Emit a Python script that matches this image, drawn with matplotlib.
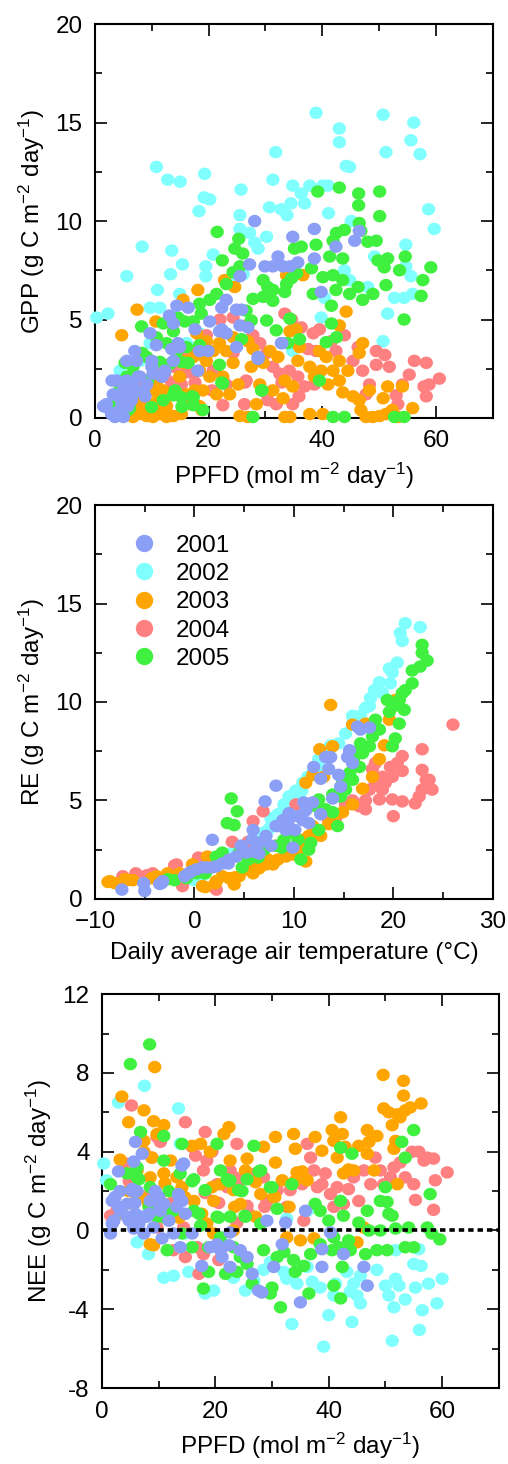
import numpy as np
import matplotlib
matplotlib.use("Agg")
import matplotlib.pyplot as plt
from matplotlib.ticker import MultipleLocator, FuncFormatter
from matplotlib.lines import Line2D
from matplotlib.path import Path

plt.rcParams['font.family'] = ['Liberation Sans', 'DejaVu Sans']
plt.rcParams['mathtext.fontset'] = 'custom'
plt.rcParams['mathtext.rm'] = 'Liberation Sans'
plt.rcParams['mathtext.it'] = 'Liberation Sans'

years = ["2001", "2002", "2003", "2004", "2005"]
colores = {"2001": "#8a9ff5", "2002": "#80ffff", "2003": "#ffa500",
           "2004": "#ff8080", "2005": "#3ff03f"}

# ---- panel 1: GPP vs PPFD  (x, y) ----
gpp_2001 = [(28.1,10.0),(38.6,9.6),(34.8,9.2),(46.5,9.5),(45.7,9.0),(42.4,8.7),(32.2,8.2),(38.6,8.1),
            (29.9,7.7),(31.3,7.7),(33.1,7.7),(34.3,7.7),(35.7,7.9),(27.2,7.8),(25.5,7.2),(39.8,6.4),
            (32.8,3.8),(28.7,3.0),(24.9,5.5),(25.5,4.7),(26.9,4.6),(24.9,3.6),(23.1,4.3),(21.9,4.4),
            (20.2,4.9),(23.1,6.0),(22.3,5.6),(18.4,3.4),(19.9,3.4),(17.6,4.5),(16.4,5.6),(14.4,5.7),
            (13.1,5.2),(13.8,4.8),(9.7,4.3),(10.8,3.7),(14.9,3.6),(13.8,2.9),(12.3,2.4),(10.0,2.6),
            (7.0,3.4),(5.6,2.9),(7.3,2.9),(5.6,1.9),(3.8,1.9),(3.2,1.2),(5.0,1.6),(6.7,1.6),(7.9,2.1),
            (6.4,0.9),(4.7,0.6),(2.9,0.2),(1.5,0.6),(2.0,0.7),(3.5,0.05),(5.0,0.05),(6.1,1.2),(8.5,1.4),
            (9.1,1.7),(10.2,2.25),(11.7,2.1),(4.4,1.0),(1.76,0.57),(3.5,0.25),(5.6,1.8),(7.0,1.3),
            (5.8,0.6),(8.8,1.1),(7.6,2.1),(10.0,2.9),(13.5,3.5),(14.6,3.8),(18.1,2.4),(22.3,4.5),
            (25.8,5.5),(28.7,3.1),(32.9,3.8),(11.8,2.1),(12.2,2.3),(4.7,1.1),(3.0,1.9)]
gpp_2002 = [(0.3,5.1),(2.3,5.3),(5.6,7.2),(8.3,8.7),(10.8,12.75),(12.8,12.1),(15.0,12.0),(13.5,8.5),
            (13.3,7.3),(15.4,7.8),(11.0,6.5),(9.7,5.6),(11.4,5.6),(14.9,6.3),(19.3,12.4),(19.2,11.2),
            (20.2,11.1),(18.3,10.5),(19.5,7.7),(20.8,8.3),(19.5,7.2),(25.7,11.6),(25.5,10.3),(25.5,9.6),
            (27.2,9.4),(28.1,8.9),(28.7,8.6),(30.2,9.2),(31.3,12.1),(31.8,13.5),(30.7,10.7),(32.8,10.6),
            (33.8,10.3),(34.8,11.8),(34.5,10.9),(36.3,11.4),(36.9,10.9),(37.8,11.8),(38.9,15.5),(40.1,11.8),
            (41.0,11.8),(41.1,10.4),(43.0,14.7),(43.0,14.0),(44.2,12.8),(44.8,12.75),(45.1,10.0),(50.7,15.4),
            (51.2,13.5),(56.1,15.0),(55.6,14.1),(57.2,13.4),(58.7,10.6),(59.7,9.6),(54.7,8.8),(50.7,3.9),
            (51.5,5.3),(52.7,6.1),(54.4,6.1),(55.9,6.3),(54.7,7.7),(55.6,7.2),(48.0,6.65),(49.2,8.2),
            (43.9,7.5),(44.8,7.0),(39.8,5.1),(40.4,6.1),(34.8,3.4),(23.7,6.9),(26.1,7.3),(9.7,3.8),
            (7.9,2.9),(4.4,2.4),(16.1,3.8),(18.4,4.3)]
gpp_2003 = [(7.4,5.5),(4.7,4.2),(10.7,4.9),(15.5,6.0),(18.1,6.5),(24.6,6.65),(22.8,7.0),(33.7,7.25),
            (36.6,7.25),(44.2,5.4),(43.0,4.7),(47.1,3.8),(46.5,3.3),(34.3,4.4),(35.4,4.5),(36.0,3.6),
            (35.7,2.9),(37.8,2.6),(38.6,2.1),(39.8,2.4),(41.0,1.7),(41.9,2.4),(43.0,2.9),(44.5,2.4),
            (43.0,1.9),(43.6,1.3),(45.4,1.1),(46.5,0.9),(46.8,0.4),(47.7,0.05),(48.9,0.05),(50.1,0.1),
            (51.2,0.2),(52.3,0.4),(53.3,0.05),(54.1,1.6),(51.5,1.6),(50.7,1.0),(55.9,0.5),(48.3,1.4),
            (40.1,0.2),(37.8,0.2),(33.4,0.05),(34.3,0.05),(31.3,1.4),(33.1,1.0),(33.4,1.9),(34.8,1.6),
            (29.0,1.7),(28.4,0.7),(26.9,0.05),(25.5,0.1),(25.2,1.7),(27.5,2.6),(29.6,2.8),(30.8,3.4),
            (32.2,3.1),(24.3,2.8),(23.1,3.4),(21.9,3.8),(22.5,2.1),(21.4,1.2),(23.7,1.2),(20.2,2.1),
            (19.0,1.4),(18.4,0.6),(16.7,0.7),(16.1,1.2),(15.2,0.2),(13.8,0.1),(12.6,0.05),(11.4,0.2),
            (10.2,0.05),(9.1,0.1),(7.9,0.2),(6.7,0.05),(6.1,0.4),(7.3,0.6),(8.5,0.55),(9.7,0.7),
            (11.1,0.9),(12.6,0.6),(13.2,1.15),(12.0,1.4),(10.8,1.7),(14.9,2.1),(15.5,2.8),(17.3,3.1),
            (18.4,2.4),(19.6,2.9),(20.8,3.4),(17.9,4.3),(19.6,3.9),(24.3,4.1),(26.9,3.9),(27.8,3.5),
            (40.7,3.1),(39.5,3.4),(7.0,0.25),(8.8,0.4),(10.6,0.25),(11.8,0.57),(12.3,1.1),(10.0,1.4),
            (7.6,0.75),(14.1,1.25),(18.8,0.4),(17.6,1.4),(19.3,3.1),(15.8,2.9)]
gpp_2004 = [(33.4,5.3),(34.6,5.0),(36.3,4.6),(38.4,4.3),(39.5,4.5),(41.6,3.9),(43.9,4.2),(42.4,3.4),
            (38.9,3.4),(37.5,3.5),(46.3,3.6),(49.5,3.4),(51.0,3.2),(49.5,2.7),(51.8,2.6),(56.2,2.9),
            (58.3,2.8),(60.6,2.0),(58.8,1.7),(57.9,1.6),(58.3,1.1),(55.3,2.2),(54.1,1.7),(53.0,1.15),
            (53.3,0.7),(48.3,1.7),(47.7,1.2),(47.1,2.4),(45.4,2.9),(38.6,1.7),(36.9,1.6),(35.7,2.1),
            (34.2,2.4),(32.5,2.25),(31.3,2.6),(29.0,3.8),(30.2,3.3),(27.8,4.2),(26.6,4.7),(24.3,5.1),
            (22.0,5.0),(19.6,4.2),(18.7,4.1),(17.0,3.4),(14.9,3.3),(13.8,2.6),(12.3,2.1),(10.8,2.6),
            (17.3,2.25),(20.8,2.4),(23.1,1.7),(22.5,0.65),(26.6,1.9),(26.3,0.7),(30.0,1.3),(31.9,0.7),
            (34.8,0.7),(35.9,1.1),(24.3,3.3),(15.2,1.7),(7.3,1.6),(4.7,1.4),(5.3,0.9),(18.8,4.1),
            (15.8,2.3),(17.6,1.8),(20.6,1.4),(13.5,1.8),(26.4,1.8),(30.4,0.9),(32.9,1.8)]
gpp_2005 = [(21.5,9.45),(25.3,9.1),(24.6,8.6),(22.4,8.0),(26.0,8.35),(25.5,7.7),(24.3,7.4),(23.1,6.8),
            (21.4,6.3),(20.2,6.0),(18.4,5.8),(18.7,5.3),(17.3,4.9),(15.8,4.9),(13.8,5.1),(12.0,4.8),
            (13.8,4.4),(8.2,4.65),(10.8,4.1),(12.6,3.8),(14.4,3.4),(16.1,3.6),(18.4,3.7),(15.2,2.85),
            (13.2,2.75),(11.4,2.85),(9.1,3.1),(6.7,2.6),(5.6,2.1),(4.4,1.5),(2.6,0.65),(6.1,0.5),
            (9.95,0.55),(12.0,0.9),(13.8,1.15),(15.2,1.05),(17.3,1.05),(17.3,0.65),(19.0,0.4),(22.5,1.75),
            (21.9,2.7),(25.8,4.0),(27.5,4.95),(26.6,5.45),(27.8,6.05),(29.6,6.15),(30.2,4.95),(31.9,4.45),
            (29.6,7.0),(30.4,6.65),(31.3,6.5),(31.3,5.95),(33.4,6.4),(33.7,6.8),(34.6,7.1),(35.5,7.35),
            (36.3,8.7),(38.1,7.6),(38.9,8.8),(39.2,11.5),(40.1,7.15),(43.0,11.7),(41.3,8.2),(41.9,9.0),
            (42.5,9.4),(43.9,9.55),(43.6,8.1),(41.9,7.25),(43.6,7.0),(42.4,6.5),(41.6,5.7),(41.6,4.8),
            (42.5,4.1),(44.8,6.3),(46.3,6.65),(46.4,11.4),(46.4,10.8),(46.5,9.9),(46.8,9.5),(48.0,8.95),
            (49.5,9.0),(50.1,10.25),(50.1,11.5),(49.8,8.0),(51.5,8.1),(50.9,7.65),(51.2,6.75),(48.9,6.3),
            (47.1,6.0),(53.6,7.5),(54.6,8.2),(54.4,5.0),(57.7,7.0),(57.4,6.2),(59.1,7.65),(38.4,6.3),
            (35.1,8.6),(34.3,5.05),(36.0,4.0),(33.9,3.8),(39.5,1.9),(29.3,1.4),(27.8,0.05),(41.9,0.05),
            (43.9,0.05),(52.7,0.05),(54.4,0.05),(40.7,3.85),(3.5,0.75),(5.8,0.4),(5.3,2.8),(8.3,3.3),
            (9.3,1.9),(14.1,1.4),(15.3,0.57),(17.1,1.1),(22.3,1.8),(29.4,1.4),(16.4,2.8),(14.6,5.1)]

# ---- panel 2: RE vs air temperature ----
re_2001 = [(-7.3,0.47),(-5.1,0.8),(-5.0,0.4),(-3.5,0.76),(-3.2,0.9),(-1.0,1.15),(-0.3,1.4),(0.2,1.5),
           (0.8,1.6),(1.8,3.0),(1.3,1.6),(2.2,1.65),(2.8,1.8),(3.5,2.0),(4.2,2.15),(4.7,2.7),(5.2,2.35),
           (5.9,2.4),(6.5,2.85),(7.2,3.2),(7.1,4.95),(8.2,5.75),(7.7,2.7),(8.2,3.7),(8.9,4.0),(9.2,3.5),
           (9.9,2.6),(9.5,4.35),(10.4,4.2),(10.9,4.0),(11.2,4.5),(11.0,4.9),(11.9,4.9),(12.0,6.7),
           (12.7,4.3),(12.7,6.1),(13.2,7.2),(13.7,7.2),(13.5,6.6),(13.9,5.1),(14.7,5.7),(14.5,6.3),
           (15.4,7.2),(15.6,7.55),(15.9,6.9),(16.4,8.75),(16.7,8.6),(17.6,8.7),(11.5,3.85),(5.9,3.5),
           (6.5,2.3),(8.4,3.7),(9.4,3.9),(5.8,3.0),(3.4,1.8),(1.8,1.6),(-0.6,1.3),(-3.3,0.8),
           (10.8,4.2),(10.1,3.5)]
re_2002 = [(21.2,14.0),(22.7,13.8),(20.7,13.5),(20.9,13.1),(20.4,12.0),(19.6,11.7),(19.9,11.5),(19.7,10.95),
           (18.6,11.0),(18.1,10.6),(18.9,10.45),(17.7,10.2),(17.2,9.7),(16.7,9.3),(15.9,8.9),(15.2,8.4),
           (14.5,7.9),(13.7,7.8),(13.4,7.4),(12.5,7.1),(12.0,6.6),(11.5,6.2),(10.9,5.9),(10.2,5.5),
           (9.5,5.2),(9.0,4.8),(8.4,4.3),(7.7,3.7),(6.9,3.35),(5.9,3.0),(4.5,2.7),(3.8,2.35),(2.8,2.0),
           (1.8,1.65),(0.7,1.15),(-0.5,1.0),(15.9,9.3),(16.6,8.9),(17.6,9.8),(12.5,6.7),(10.5,5.3),
           (7.7,4.1),(10.1,5.4),(10.8,5.5),(8.8,4.4),(7.4,3.5),(6.1,3.2),(4.4,2.5),(0.0,0.95),(11.4,6.2)]
re_2003 = [(-8.5,0.9),(-8.0,0.8),(-7.0,1.0),(-6.2,0.95),(-4.3,1.05),(-3.8,1.15),(-2.7,1.3),(-1.5,1.3),
           (-0.2,1.75),(0.8,0.65),(1.3,2.15),(2.2,0.9),(2.8,1.15),(3.5,1.05),(4.0,0.73),(4.5,1.15),
           (5.2,1.5),(5.9,1.3),(6.5,1.55),(7.2,1.75),(7.9,1.75),(8.4,2.0),(9.2,2.15),(10.0,2.25),
           (10.5,2.5),(10.9,3.0),(11.2,1.9),(11.5,3.2),(11.9,3.7),(12.7,3.2),(11.2,5.9),(11.9,6.3),
           (12.6,7.6),(13.7,9.85),(13.5,3.8),(14.2,4.3),(14.9,4.4),(15.9,4.8),(15.9,8.85),(16.9,5.6),
           (17.9,6.2),(18.6,7.1),(19.1,7.8),(19.6,9.1),(20.2,10.1),(17.2,8.9),(13.9,7.75),(15.6,7.4),
           (13.0,6.2),(5.8,1.6),(4.1,1.1),(2.1,0.8),(1.1,0.6),(7.4,2.0),(9.4,2.6),(-8.7,0.86),
           (-6.7,0.96),(-4.0,1.1)]
re_2004 = [(-7.2,1.15),(-5.9,1.3),(-4.8,1.2),(-4.2,1.3),(-1.8,1.75),(-1.2,0.65),(0.5,2.0),(2.2,0.47),
           (3.8,2.9),(5.4,2.9),(5.9,3.95),(6.9,4.45),(8.2,2.7),(10.2,4.8),(11.2,2.85),(13.4,4.1),
           (14.2,4.1),(15.2,4.8),(15.9,5.0),(16.6,4.7),(17.2,5.0),(17.6,5.55),(18.2,5.9),(18.9,6.2),
           (18.9,5.55),(18.6,5.05),(19.2,5.9),(19.9,6.2),(19.7,6.7),(20.4,6.9),(20.9,7.25),(19.9,5.05),
           (20.0,4.2),(20.9,6.5),(20.9,4.95),(22.2,4.85),(22.6,5.2),(22.9,5.55),(22.9,6.55),(22.9,7.6),
           (23.3,6.05),(23.6,6.05),(23.9,5.55),(26.0,8.85),(17.9,6.6),(18.2,6.9),(17.2,4.55),
           (-2.0,1.7),(0.4,2.1),(2.1,1.8)]
re_2005 = [(22.9,12.9),(22.9,12.5),(23.4,12.1),(22.7,11.8),(21.9,11.6),(21.9,10.95),(21.2,10.6),(20.9,10.45),
           (20.6,10.1),(19.4,10.1),(20.1,9.8),(21.1,9.6),(19.6,9.5),(20.6,8.9),(20.2,8.15),(19.9,7.75),
           (18.2,9.1),(18.6,8.6),(17.9,8.25),(17.6,7.75),(16.7,7.9),(16.9,7.4),(16.2,7.4),(16.0,7.05),
           (16.6,6.7),(15.6,6.4),(15.9,6.05),(14.9,5.9),(15.2,5.55),(14.7,5.2),(13.9,5.3),(13.2,4.55),
           (12.5,5.05),(12.2,4.7),(12.5,3.5),(11.7,2.85),(11.5,2.5),(10.7,2.0),(9.9,3.35),(9.0,3.0),
           (8.2,2.7),(7.0,2.5),(6.2,2.25),(5.4,2.0),(4.5,2.35),(3.7,5.1),(4.3,4.45),(3.3,3.85),(4.0,3.75),
           (2.8,2.35),(2.2,2.15),(1.0,1.3),(0.2,1.3),(-0.8,1.05),(-2.7,1.0),(14.4,3.7),(13.9,4.4),
           (1.1,1.3),(4.8,1.6),(6.4,2.1),(8.8,2.6),(10.4,3.0),(-2.0,0.95)]

# ---- panel 3: NEE vs PPFD ----
nee_2001 = [(1.5,-0.15),(2.1,0.5),(1.8,1.5),(2.9,3.0),(3.2,2.0),(4.4,1.35),(5.6,3.5),(5.9,4.5),(7.1,3.9),
            (5.3,2.1),(6.2,2.0),(5.9,0.85),(6.8,0.6),(7.9,0.7),(7.4,-0.15),(5.6,0.1),(4.4,0.7),(3.2,1.0),
            (8.5,1.5),(9.4,2.0),(10.3,1.0),(10.9,1.35),(11.8,0.5),(12.6,-0.15),(13.5,1.85),(14.1,1.5),
            (14.4,3.4),(13.2,1.2),(14.7,0.85),(15.9,-0.15),(13.8,-0.85),(17.6,-1.8),(19.1,-0.85),
            (20.3,-0.7),(20.9,-1.0),(21.2,-1.35),(22.4,-0.75),(22.6,-1.85),(24.4,-1.0),(25.6,-1.35),
            (26.5,-2.2),(27.6,-3.05),(28.2,-3.15),(29.1,0.5),(30.3,-1.85),(31.8,-0.7),(32.4,0.4),
            (35.0,-3.65),(35.9,1.0),(38.8,-1.85),(38.8,-0.95),(42.6,-1.2),(46.2,-1.85),(46.8,-2.8),
            (40.3,-0.1),(10.6,-0.4),(9.1,0.15),(22.6,-0.1),(2.3,1.7),(2.9,1.2),(5.3,2.0),(5.8,1.4),
            (7.0,0.7),(8.3,0.85),(4.8,0.5),(6.5,0.35),(10.2,1.2),(10.0,1.7),(13.6,1.7),(14.1,3.3),(1.8,0.35)]
nee_2002 = [(0.3,3.4),(0.8,2.55),(2.9,6.5),(7.5,7.35),(13.5,6.2),(13.8,4.4),(8.2,-1.2),(6.2,-0.6),
            (10.9,-2.4),(12.6,-2.3),(15.3,-2.1),(18.2,-3.2),(19.7,-3.05),(23.2,-2.4),(25.3,-3.05),
            (26.8,-2.55),(28.5,-2.0),(29.7,-1.6),(32.1,-2.1),(32.6,-2.45),(33.5,-4.75),(34.4,-2.7),
            (36.2,-1.85),(37.1,-2.6),(38.5,-2.9),(39.1,-5.9),(40.0,-4.3),(40.9,-3.3),(41.2,-2.7),
            (43.2,-2.1),(44.1,-4.65),(43.8,-3.1),(44.4,-2.7),(45.0,-3.3),(45.6,-3.7),(45.6,-2.3),
            (48.5,-2.0),(50.0,-2.8),(50.6,-3.3),(51.2,-5.6),(51.5,-3.9),(51.8,-2.45),(52.4,-2.8),
            (53.5,-3.5),(51.8,-1.0),(55.0,-1.7),(55.3,-2.9),(55.9,-0.95),(56.0,-5.05),(56.3,-1.8),
            (56.5,-4.05),(57.6,-2.7),(59.1,-3.7),(60.0,-2.45),(32.6,0.6),(36.2,1.0),(14.7,-0.15)]
nee_2003 = [(3.5,6.8),(4.7,5.5),(7.4,6.1),(9.3,8.3),(9.1,5.55),(10.9,5.35),(7.4,4.55),(9.7,4.9),(3.2,3.6),
            (7.4,4.0),(8.8,3.7),(6.2,3.05),(8.5,2.7),(10.9,2.9),(12.1,3.55),(15.9,4.3),(17.4,4.4),(19.1,4.0),
            (21.5,4.9),(22.4,5.25),(22.6,3.55),(25.6,3.65),(28.5,4.25),(30.6,4.75),(30.6,3.45),(33.8,4.9),
            (34.1,4.15),(34.4,2.95),(35.3,3.0),(36.2,2.55),(37.6,4.75),(38.8,4.05),(40.6,5.1),(42.1,5.75),
            (40.9,4.55),(42.4,4.9),(42.9,4.25),(41.5,3.7),(42.6,2.9),(43.5,3.1),(44.4,3.05),(45.3,4.3),
            (46.8,5.1),(47.1,4.5),(46.8,3.9),(48.0,3.05),(48.5,4.8),(49.6,7.9),(49.7,6.2),(50.6,6.0),
            (51.2,5.35),(51.8,4.55),(52.1,5.9),(52.6,5.75),(53.2,7.6),(53.2,6.85),(53.5,6.1),(54.4,6.25),
            (56.3,6.45),(51.5,4.15),(52.1,2.35),(45.0,-0.6),(46.2,0.15),(32.6,-0.35),(35.0,-0.5),
            (37.4,-0.4),(18.5,0.35),(16.2,1.5),(14.1,2.2),(13.2,2.7),(10.3,1.5),(8.2,1.35),(6.8,1.7),
            (5.6,1.35),(4.7,2.0),(8.5,-0.7),(9.1,-0.75),(19.7,1.5),(20.9,2.35),(23.2,2.05),(24.4,1.35),
            (27.1,0.7),(28.0,1.85),(30.3,1.7),(31.8,2.55),(27.1,2.45),(25.3,3.05),(23.2,0.0),(19.7,-0.15),
            (3.5,0.85),(5.8,1.9),(11.1,2.4),(14.6,1.7),(13.6,0.65),(17.6,0.85),(19.4,2.2),(23.4,1.2),
            (27.0,2.5),(30.5,1.7),(33.0,1.2),(34.0,2.5)]
nee_2004 = [(5.2,6.35),(4.1,3.4),(10.3,4.5),(9.7,4.75),(14.7,5.5),(18.2,5.0),(15.9,4.25),(16.5,3.8),
            (18.5,3.55),(19.4,4.0),(23.8,4.4),(17.9,3.05),(20.3,2.35),(22.6,3.05),(22.1,2.2),(24.4,2.55),
            (27.1,2.9),(28.5,2.7),(29.1,1.5),(30.9,2.05),(33.2,2.05),(35.3,2.35),(36.2,4.4),(36.8,3.7),
            (37.4,3.05),(38.0,2.2),(38.8,2.35),(39.4,2.9),(40.3,1.85),(41.5,2.2),(40.9,1.2),(42.6,1.35),
            (43.5,2.1),(44.4,2.7),(45.3,1.5),(46.2,3.05),(47.4,2.35),(48.2,3.7),(49.1,3.05),(49.7,2.35),
            (50.9,2.7),(51.5,3.2),(52.6,3.45),(53.5,2.7),(55.0,2.35),(55.3,1.55),(55.9,4.0),(56.8,3.55),
            (57.4,3.7),(58.5,3.65),(58.8,2.55),(58.5,1.05),(60.9,2.95),(54.7,4.0),(16.8,-0.85),
            (17.1,-2.2),(17.9,-1.2),(20.6,-1.5),(14.7,-1.35),(12.6,-1.0),(1.5,0.75),(2.6,1.0),(9.7,0.15),
            (23.8,0.4),(25.6,1.25),(32.6,1.2),(35.6,0.5),(14.4,0.15),(4.8,2.5),(8.8,3.7),(9.3,1.4),
            (12.3,1.4),(18.2,1.9),(20.6,1.4),(23.4,2.7),(25.9,0.85),(28.7,1.2),(7.6,1.7)]
nee_2005 = [(8.4,9.45),(5.0,8.45),(6.8,5.0),(10.9,4.8),(14.1,4.4),(20.3,4.4),(26.8,4.3),(6.2,3.2),(1.5,2.35),
            (4.4,2.9),(6.2,2.7),(8.5,2.2),(10.9,3.55),(13.8,2.9),(16.2,2.6),(18.2,2.05),(20.9,3.05),
            (22.1,2.6),(22.6,2.55),(25.6,2.6),(28.0,3.05),(24.1,2.05),(29.7,2.2),(30.9,1.1),(33.5,2.35),
            (8.8,1.35),(9.7,0.7),(12.6,1.0),(16.2,1.0),(17.4,0.25),(20.3,0.7),(22.6,0.7),(25.3,0.7),
            (28.0,0.35),(14.1,-0.15),(15.9,-0.85),(18.8,-0.85),(20.9,-0.35),(23.2,-0.85),(24.4,-1.35),
            (25.6,-1.7),(26.5,-2.7),(11.5,-1.0),(18.8,-2.1),(17.9,-2.95),(21.8,-2.2),(23.8,-2.1),
            (28.5,-1.0),(30.0,-2.9),(29.7,-3.2),(31.5,-3.9),(30.9,-1.35),(32.1,-1.1),(33.8,-1.5),
            (34.1,-2.1),(35.6,-1.8),(36.5,-3.2),(36.8,-1.2),(37.6,1.35),(38.5,1.0),(40.0,0.5),(38.5,-0.7),
            (40.6,-1.0),(40.9,-0.35),(41.8,-0.85),(42.1,1.5),(42.6,0.75),(42.1,4.2),(42.4,-1.85),
            (42.1,-3.45),(43.5,-0.5),(44.1,3.9),(43.8,-1.0),(45.3,0.4),(46.8,1.0),(46.5,-1.2),(47.1,0.0),
            (49.1,0.0),(48.5,-1.0),(49.1,1.5),(50.0,2.2),(50.3,1.45),(50.6,0.85),(51.2,0.75),(50.3,-1.0),
            (51.8,0.1),(52.9,4.5),(53.5,3.7),(55.0,5.1),(53.5,-0.85),(55.0,-0.85),(54.1,0.15),(57.9,1.85),
            (57.4,0.15),(58.2,-0.15),(59.6,-0.45),(40.9,-2.8),(6.5,2.6),(11.8,2.0),(8.3,1.2),(15.9,2.5),
            (17.1,0.85),(20.6,0.65),(22.4,2.5),(24.7,2.0),(25.2,0.75),(27.7,3.0),(30.0,2.2),(11.1,0.65)]

orden = ["2002", "2004", "2003", "2005", "2001"]
ppfd_label = r"PPFD (mol m$^{-2}$ day$^{-1}$)"
fs = 17.5

# marcador apenas mas ancho que alto
t = np.linspace(0, 2 * np.pi, 40)
elipse = Path(np.column_stack([1.07 * np.cos(t), np.sin(t)]), closed=True)


def dibujar(ax, datos):
    for yr in orden:
        xy = np.array(datos[yr]).T
        ax.scatter(xy[0], xy[1], s=92, marker=elipse, color=colores[yr],
                   edgecolors='none', clip_on=False, zorder=3)


def ejes(ax, xlim, ylim, xmaj, xmin, ymaj, ymin, menos):
    ax.set_xlim(*xlim)
    ax.set_ylim(*ylim)
    ax.xaxis.set_major_locator(MultipleLocator(xmaj))
    ax.xaxis.set_minor_locator(MultipleLocator(xmin))
    ax.yaxis.set_major_locator(MultipleLocator(ymaj))
    ax.yaxis.set_minor_locator(MultipleLocator(ymin))
    fmt = FuncFormatter(lambda v, p: f"{v:g}".replace("-", menos))
    ax.xaxis.set_major_formatter(fmt)
    ax.yaxis.set_major_formatter(fmt)
    ax.tick_params(which='both', direction='in', top=True, right=True, width=1.2)
    ax.tick_params(which='major', length=8.5, labelsize=fs, pad=9)
    ax.tick_params(which='minor', length=5)
    for sp in ax.spines.values():
        sp.set_linewidth(1.5)


fig = plt.figure(figsize=(5.08, 14.64), dpi=100)

# GPP
ax1 = fig.add_axes([0.187, 0.7145, 0.783, 0.269])
dibujar(ax1, {"2001": gpp_2001, "2002": gpp_2002, "2003": gpp_2003,
              "2004": gpp_2004, "2005": gpp_2005})
ejes(ax1, (0, 70), (0, 20), 20, 10, 5, 2.5, "\u2212")
ax1.set_xlabel(ppfd_label, fontsize=fs, labelpad=6)
ax1.set_ylabel(r"GPP (g C m$^{-2}$ day$^{-1}$)", fontsize=fs, labelpad=6)

# RE
ax2 = fig.add_axes([0.187, 0.386, 0.783, 0.269])
dibujar(ax2, {"2001": re_2001, "2002": re_2002, "2003": re_2003,
              "2004": re_2004, "2005": re_2005})
ejes(ax2, (-10, 30), (0, 20), 10, 5, 5, 2.5, "\u2212")
ax2.set_xlabel("Daily average air temperature (\u00b0C)", fontsize=fs, labelpad=6)
ax2.set_ylabel(r"RE (g C m$^{-2}$ day$^{-1}$)", fontsize=fs, labelpad=6)
handles = [Line2D([], [], linestyle='none', marker='o', markersize=12.5,
                  markerfacecolor=colores[yr], markeredgecolor='none') for yr in years]
ax2.legend(handles, years, loc='upper left', bbox_to_anchor=(0.093, 0.925),
           frameon=False, fontsize=fs, handlelength=1.0, handletextpad=0.8,
           labelspacing=0.26, borderpad=0, borderaxespad=0)

# NEE
ax3 = fig.add_axes([0.2008, 0.0519, 0.781, 0.269])
dibujar(ax3, {"2001": nee_2001, "2002": nee_2002, "2003": nee_2003,
              "2004": nee_2004, "2005": nee_2005})
ax3.axhline(0, color='black', lw=2.6, linestyle=(0, (1.5, 1.1)), zorder=4)
ejes(ax3, (0, 70), (-8, 12), 20, 10, 4, 2, "-")
ax3.set_xlabel(ppfd_label, fontsize=fs, labelpad=6)
ax3.set_ylabel(r"NEE (g C m$^{-2}$ day$^{-1}$)", fontsize=fs, labelpad=6)

fig.savefig("out.png", dpi=100)
